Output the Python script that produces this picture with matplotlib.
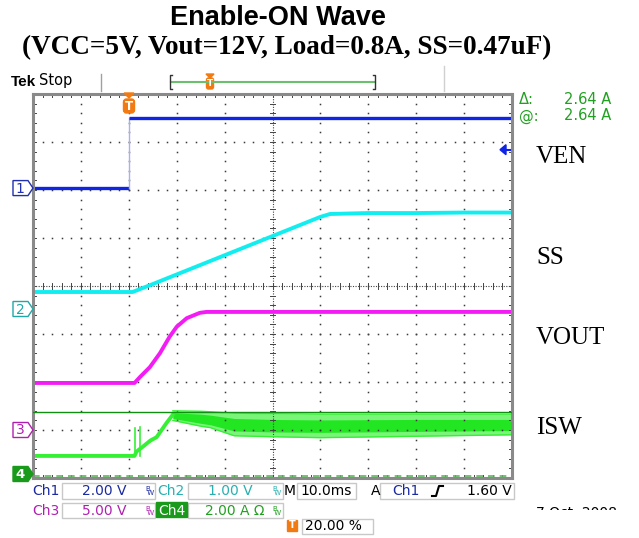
import numpy as np
import matplotlib
matplotlib.use('Agg')
import matplotlib.pyplot as plt
from matplotlib.patches import Polygon, Rectangle, FancyBboxPatch

# trace data, in scope divisions (x: 0-10 div, y: 0-8 div)
ven_x = [0.0, 2.0, 2.0, 10.0]
ven_y = [6.04, 6.04, 7.5, 7.5]

ss_x = [0.0, 2.08, 2.5, 3.0, 3.5, 4.0, 4.5, 5.0, 5.5, 5.8, 6.0, 6.2, 7.0, 8.0, 9.0, 10.0]
ss_y = [3.875, 3.875, 4.04, 4.24, 4.44, 4.64, 4.84, 5.04, 5.24, 5.36, 5.44, 5.50, 5.52, 5.52, 5.53, 5.53]

vout_x = [0.0, 2.12, 2.23, 2.44, 2.65, 2.85, 3.0, 3.21, 3.48, 3.62, 10.0]
vout_y = [1.98, 1.98, 2.10, 2.31, 2.60, 2.94, 3.15, 3.33, 3.44, 3.46, 3.46]

isw_x = [0.0, 2.12, 2.16, 2.29, 2.45, 2.58, 2.79, 2.92]
isw_y = [0.46, 0.46, 0.55, 0.65, 0.78, 0.85, 1.15, 1.32]
isw_spike_x = [2.13, 2.23]
isw_spike_top = [1.04, 1.06]
ripple_x = [2.92, 3.5, 3.7, 4.2, 5.0, 6.0, 8.0, 10.0]
ripple_hi = [1.40, 1.39, 1.38, 1.35, 1.34, 1.33, 1.33, 1.33]
ripple_lo = [1.20, 1.08, 1.05, 0.88, 0.86, 0.84, 0.87, 0.90]
ripple_core_hi = [1.36, 1.33, 1.31, 1.24, 1.22, 1.21, 1.22, 1.22]
ripple_core_lo = [1.24, 1.14, 1.11, 0.98, 0.96, 0.95, 0.97, 0.99]

cursor_level = 1.375
ch4_ground = 0.04
trig_level = 6.84

channel_labels = ['VEN', 'SS', 'VOUT', 'ISW']
label_rows = [157, 258, 338, 428]

BLUE = '#1024e6'
CYAN = '#12eef0'
MAGENTA = '#f41cf4'
GREEN = '#36f036'
DKGREEN = '#1a9a1a'
ORANGE = '#f27a12'

W, H = 639, 538
fig = plt.figure(figsize=(W / 100, H / 100), dpi=100)
fig.patch.set_facecolor('white')

# main scope screen
ax = fig.add_axes([33 / W, 60 / H, 479 / W, 384 / H])
ax.set_xlim(0, 10)
ax.set_ylim(0, 8)
ax.set_xticks([])
ax.set_yticks([])
for s in ax.spines.values():
    s.set_color('#8a8a8a')
    s.set_linewidth(2.2)

# dotted graticule
sub = np.arange(0, 10.01, 0.2)
suby = np.arange(0, 8.01, 0.2)
for i in range(1, 10):
    if i == 5:
        continue
    ax.plot([i] * len(suby), suby, ls='', marker='s', ms=1.1, color='#3a3a3a', mew=0)
for j in range(1, 8):
    if j == 4:
        continue
    ax.plot(sub, [j] * len(sub), ls='', marker='s', ms=1.1, color='#3a3a3a', mew=0)
ax.axhline(4, ls=(0, (1, 1.3)), color='#444444', lw=0.8)
ax.axvline(5, ls=(0, (1, 1.3)), color='#444444', lw=0.8)
for x in sub:
    ax.plot([x, x], [3.94, 4.06], color='#444444', lw=0.7)
    ax.plot([x, x], [7.93, 8.0], color='#444444', lw=0.7)
    ax.plot([x, x], [0.0, 0.07], color='#444444', lw=0.7)
for y in suby:
    ax.plot([4.95, 5.05], [y, y], color='#444444', lw=0.7)
    ax.plot([0.0, 0.07], [y, y], color='#444444', lw=0.7)
    ax.plot([9.93, 10.0], [y, y], color='#444444', lw=0.7)

# channel 4 ground (dashed) and cursor
ax.axhline(ch4_ground, color='#5cb85c', lw=1.2, ls=(0, (4, 3)))
ax.axhline(cursor_level, color='#109010', lw=1.0, zorder=5)

# traces
ax.plot(ven_x[:2], ven_y[:2], color=BLUE, lw=2.4, solid_capstyle='butt')
ax.plot(ven_x[1:3], ven_y[1:3], color='#a8b0f0', lw=1.0)
ax.plot(ven_x[2:], ven_y[2:], color=BLUE, lw=2.4, solid_capstyle='butt')
ax.plot(ss_x, ss_y, color=CYAN, lw=2.8)
ax.plot(vout_x, vout_y, color=MAGENTA, lw=2.8)
ax.plot(isw_x, isw_y, color=GREEN, lw=2.8)
for sx, st in zip(isw_spike_x, isw_spike_top):
    ax.plot([sx, sx], [isw_y[1], st], color=GREEN, lw=1.2)
ax.fill_between(ripple_x, ripple_lo, ripple_hi, color='#7af57a', lw=0)
ax.fill_between(ripple_x, ripple_core_lo, ripple_core_hi, color='#22e622', lw=0)
ax.plot(ripple_x, ripple_hi, color=GREEN, lw=1.0)
ax.plot(ripple_x, ripple_lo, color=GREEN, lw=1.0)

# overlay in pixel coordinates for the annotations
ov = fig.add_axes([0, 0, 1, 1], zorder=3)
ov.set_xlim(0, W)
ov.set_ylim(H, 0)
ov.axis('off')
ov.patch.set_alpha(0)

ov.text(278, 18, 'Enable-ON Wave', ha='center', va='center', fontsize=19.5,
        fontweight='bold', family='Liberation Sans')
ov.text(287, 48, '(VCC=5V, Vout=12V, Load=0.8A, SS=0.47uF)', ha='center', va='center',
        fontsize=19.5, fontweight='bold', family='Liberation Serif')

# header row
ov.text(11, 82, 'Tek', ha='left', va='center', fontsize=11, fontweight='bold',
        family='Liberation Sans')
ov.text(39, 81, 'Stop', ha='left', va='center', fontsize=10.5, family='DejaVu Sans')
ov.plot([101, 101], [74, 91], color='#a0a0a0', lw=1)
ov.plot([444, 444], [66, 91], color='#d0d0d0', lw=1)
ov.plot([171, 375], [82, 82], color='#6cbf6c', lw=1.5)
ov.plot([172, 170, 170, 172], [75, 75, 89, 89], color='#333333', lw=1)
ov.plot([373, 375, 375, 373], [75, 75, 89, 89], color='#333333', lw=1)
ov.add_patch(Polygon([(206, 74), (214, 74), (210, 78)], closed=True, color=ORANGE))
ov.add_patch(FancyBboxPatch((206.5, 78), 7, 11, boxstyle='round,pad=0,rounding_size=2',
                            color=ORANGE))
ov.text(210, 84, 'T', ha='center', va='center', fontsize=6.5, color='white',
        fontweight='bold')

# trigger position marker
ov.add_patch(Polygon([(124, 93), (134, 93), (129, 98)], closed=True, color=ORANGE))
ov.add_patch(FancyBboxPatch((123.5, 99), 11, 14, boxstyle='round,pad=0,rounding_size=3',
                            color=ORANGE))
ov.text(129, 106.5, 'T', ha='center', va='center', fontsize=8.5, color='white',
        fontweight='bold')

# trigger level arrow
ly = 478 - trig_level * 48
ov.add_patch(Polygon([(500, ly), (506, ly - 5), (506, ly + 5)], closed=True, color=BLUE))
ov.plot([505, 510], [ly, ly], color=BLUE, lw=1.5)


def ch_marker(yc, num, col, filled=False):
    pts = [(13, yc - 7.5), (28, yc - 7.5), (33, yc), (28, yc + 7.5), (13, yc + 7.5)]
    if filled:
        ov.add_patch(Polygon(pts, closed=True, facecolor=col, edgecolor=col, lw=1))
        ov.text(20, yc + 0.5, num, ha='center', va='center', fontsize=9.5, color='white',
                fontweight='bold')
    else:
        ov.add_patch(Polygon(pts, closed=True, facecolor='white', edgecolor=col, lw=1))
        ov.text(20, yc + 0.5, num, ha='center', va='center', fontsize=10, color=col)


ch_marker(478 - ven_y[0] * 48, '1', '#2030b0')
ch_marker(309, '2', '#20a8a8')
ch_marker(430, '3', '#b020b0')
ch_marker(474, '4', DKGREEN, filled=True)

# cursor readouts
ov.text(519, 100, 'Δ:', ha='left', va='center', fontsize=10.5, color='#22a022')
ov.text(611, 100, '2.64 A', ha='right', va='center', fontsize=10.5, color='#22a022')
ov.text(519, 116, '@:', ha='left', va='center', fontsize=10.5, color='#22a022')
ov.text(611, 116, '2.64 A', ha='right', va='center', fontsize=10.5, color='#22a022')

for lab, ry in zip(channel_labels, label_rows):
    ov.text(536, ry, lab, ha='left', va='center', fontsize=18, family='Liberation Serif')


# bottom readouts
def box(x0, x1, y0, y1):
    ov.add_patch(Rectangle((x0, y0), x1 - x0, y1 - y0, facecolor='white',
                           edgecolor='#c8c8c8', lw=1))


def bw(x, y, col):
    ov.text(x, y, 'B\n W', fontsize=5, color=col, ha='left', va='center',
            linespacing=0.75, family='DejaVu Sans')


r1, r2, r3 = 491, 511, 526
box(62, 155, 483, 499)
box(188, 283, 483, 499)
box(297, 356, 483, 499)
box(380, 514, 483, 499)
box(62, 155, 503, 518)
box(188, 283, 503, 518)
box(302, 373, 519, 534)

fs = 10
ov.text(32, r1, 'Ch1', fontsize=fs, color='#1a2aa0', va='center')
ov.text(127, r1, '2.00 V', fontsize=fs, color='#1a2aa0', va='center', ha='right')
bw(145, r1, '#1a2aa0')
ov.text(157, r1, 'Ch2', fontsize=fs, color='#28b0b0', va='center')
ov.text(253, r1, '1.00 V', fontsize=fs, color='#28b0b0', va='center', ha='right')
bw(272, r1, '#28b0b0')
ov.text(284, r1, 'M', fontsize=fs, color='black', va='center')
ov.text(300, r1, '10.0ms', fontsize=fs, color='black', va='center')
ov.text(371, r1, 'A', fontsize=fs, color='black', va='center')
ov.text(392, r1, 'Ch1', fontsize=fs, color='#1a2aa0', va='center')
ov.plot([432, 436, 439, 443], [496, 496, 486, 486], color='black', lw=1.5)
ov.text(512, r1, '1.60 V', fontsize=fs, color='black', va='center', ha='right')

ov.text(32, r2, 'Ch3', fontsize=fs, color='#b020b0', va='center')
ov.text(127, r2, '5.00 V', fontsize=fs, color='#b020b0', va='center', ha='right')
bw(145, r2, '#b020b0')
ov.add_patch(Rectangle((156, 502), 31, 15, facecolor=DKGREEN, edgecolor=DKGREEN))
ov.text(158, r2, 'Ch4', fontsize=fs, color='white', va='center')
ov.text(205, r2, '2.00 A Ω', fontsize=fs, color='#22a022', va='center')
bw(272, r2, '#22a022')

ov.add_patch(Rectangle((287, 520), 10, 11, facecolor=ORANGE, edgecolor=ORANGE))
ov.text(292, 525.5, 'T', fontsize=7, color='white', va='center', ha='center',
        fontweight='bold')
ov.text(305, r3, '20.00 %', fontsize=fs, color='black', va='center')

# date stamp, bottom half cut off as in the screenshot
ov.text(536, 513, '7 Oct  2008', fontsize=10, color='black', va='center')
ov.add_patch(Rectangle((525, 510), 110, 28, facecolor='white', edgecolor='none', zorder=10))

fig.savefig('out.png', dpi=100)
